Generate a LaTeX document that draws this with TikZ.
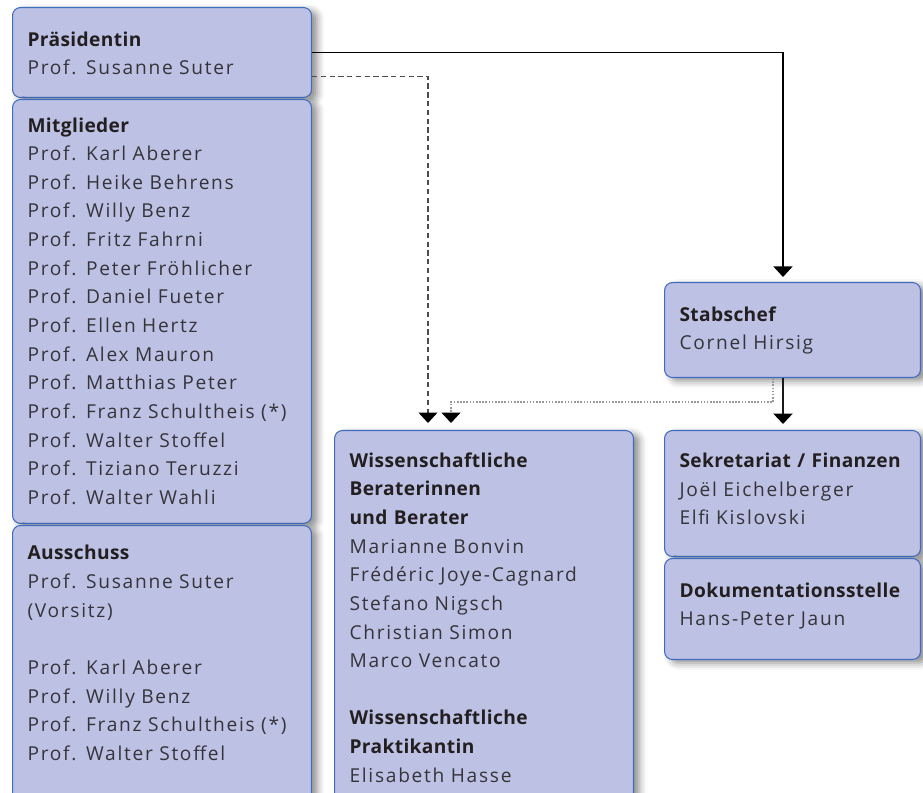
\documentclass[tikz,border=0pt]{standalone}
\usepackage{fontspec}
\setmainfont{Open Sans}
\newfontfamily\namefont[LetterSpace=9]{Open Sans}
\newfontfamily\headfont[LetterSpace=2]{Open Sans}
\usetikzlibrary{arrows.meta,shadows.blur}
\definecolor{boxfill}{RGB}{189,193,227}
\definecolor{boxline}{RGB}{62,108,190}
\definecolor{headcol}{RGB}{35,31,32}
\definecolor{namecol}{RGB}{52,52,58}
\newcommand{\orghead}[1]{{\headfont\bfseries\color{headcol}#1}}
\newcommand{\orgtext}[3]{\parbox[t][#1][t]{\linewidth}{\rule{0pt}{#2}\namefont\color{namecol}#3}}
\begin{document}
\begin{tikzpicture}[x=0.02cm,y=-0.02cm,
    orgbox/.style={draw=boxline, line width=0.6pt, fill=boxfill, rounded corners=0.16cm,
      anchor=north west, inner xsep=0.3cm, inner ysep=0pt, align=left,
      font=\fontsize{10.9}{16.3}\selectfont,
      blur shadow={shadow xshift=0.12cm, shadow yshift=-0.07cm, shadow blur radius=0.14cm, shadow opacity=45}},
    wide/.style={text width=5.38cm},
    narrow/.style={text width=4.52cm},
    tip/.style={-{Triangle[width=0.38cm,length=0.21cm,black]}},
    mainlink/.style={tip, line width=0.6pt, black},
    advlink/.style={tip, line width=0.6pt, black!70, dash pattern=on 3pt off 2pt},
    infolink/.style={tip, line width=0.9pt, black!40, dash pattern=on 0.9pt off 0.9pt},
    stafflink/.style={tip, line width=1.6pt, black!90}]
  \useasboundingbox (0,0) rectangle (923,793);
  % left column
  \node[orgbox, wide] (praes) at (12,7) {\orgtext{1.8cm}{0.774cm}{\orghead{Präsidentin}\\
    Prof. Susanne Suter}};
  \node[orgbox, wide] (mitgl) at (12,99) {\orgtext{8.48cm}{0.65cm}{\orghead{Mitglieder}\\
    Prof. Karl Aberer\\
    Prof. Heike Behrens\\
    Prof. Willy Benz\\
    Prof. Fritz Fahrni\\
    Prof. Peter Fröhlicher\\
    Prof. Daniel Fueter\\
    Prof. Ellen Hertz\\
    Prof. Alex Mauron\\
    Prof. Matthias Peter\\
    Prof. Franz Schultheis (*)\\
    Prof. Walter Stoffel\\
    Prof. Tiziano Teruzzi\\
    Prof. Walter Wahli}};
  \node[orgbox, wide] (aussch) at (12,525) {\orgtext{5.5cm}{0.686cm}{\orghead{Ausschuss}\\
    Prof. Susanne Suter\\
    (Vorsitz)\\[16.3pt]
    Prof. Karl Aberer\\
    Prof. Willy Benz\\
    Prof. Franz Schultheis (*)\\
    Prof. Walter Stoffel}};
  % middle column
  \node[orgbox, wide] (wiss) at (334,430) {\orgtext{7.4cm}{0.734cm}{\orghead{Wissenschaftliche}\\
    \orghead{Beraterinnen}\\
    \orghead{und Berater}\\
    Marianne Bonvin\\
    Frédéric Joye-Cagnard\\
    Stefano Nigsch\\
    Christian Simon\\
    Marco Vencato\\[16.3pt]
    \orghead{Wissenschaftliche}\\
    \orghead{Praktikantin}\\
    Elisabeth Hasse}};
  % right column
  \node[orgbox, narrow] (stab) at (664,282) {\orgtext{1.9cm}{0.774cm}{\orghead{Stabschef}\\
    Cornel Hirsig}};
  \node[orgbox, narrow] (sekr) at (664,430) {\orgtext{2.52cm}{0.74cm}{\orghead{Sekretariat / Finanzen}\\
    Joël Eichelberger\\
    Elfi Kislovski}};
  \node[orgbox, narrow] (doku) at (664,558) {\orgtext{2.02cm}{0.774cm}{\orghead{Dokumentationsstelle}\\
    Hans-Peter Jaun}};
  % connectors
  \coordinate (stabin) at (783,282);
  \coordinate (wissin) at (428,430);
  \coordinate (praktin) at (451,430);
  \coordinate (sekrin) at (783,430);
  \coordinate (infobend) at (773,402);
  \draw[mainlink, shorten >=0.1cm] (praes.east) -| (stabin);
  \draw[advlink, shorten >=0.14cm] ([yshift=-0.48cm]praes.east) -| (wissin);
  \draw[infolink, shorten >=0.14cm] (infobend |- stab.south) -- (infobend) -| (praktin);
  \draw[stafflink, shorten >=0.12cm] (stab.south -| stabin) -- (sekrin);
\end{tikzpicture}
\end{document}
